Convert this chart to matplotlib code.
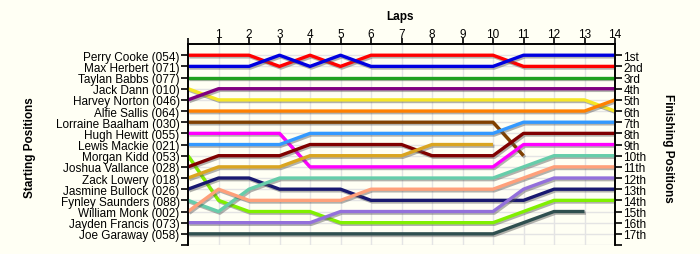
import matplotlib
matplotlib.use("Agg")
import matplotlib.pyplot as plt
import matplotlib.patheffects as pe
import numpy as np

plt.rcParams['font.family'] = ['Liberation Sans', 'DejaVu Sans']

laps = list(range(0, 15))

drivers = ['Perry Cooke (054)', 'Max Herbert (071)', 'Taylan Babbs (077)', 'Jack Dann (010)',
           'Harvey Norton (046)', 'Alfie Sallis (064)', 'Lorraine Baalham (030)', 'Hugh Hewitt (055)',
           'Lewis Mackie (021)', 'Morgan Kidd (053)', 'Joshua Vallance (028)', 'Zack Lowery (018)',
           'Jasmine Bullock (026)', 'Fynley Saunders (088)', 'William Monk (002)',
           'Jayden Francis (073)', 'Joe Garaway (058)']

finish_labels = ['1st', '2nd', '3rd', '4th', '5th', '6th', '7th', '8th', '9th', '10th',
                 '11th', '12th', '13th', '14th', '15th', '16th', '17th']

# position at each lap (lap 0 = grid), None = retired
perry = [1, 1, 1, 2, 1, 2, 1, 1, 1, 1, 1, 2, 2, 2, 2]
max_h = [2, 2, 2, 1, 2, 1, 2, 2, 2, 2, 2, 1, 1, 1, 1]
taylan = [3] * 15
jack = [4, 5, 5, 5, 5, 5, 5, 5, 5, 5, 5, 5, 5, 5, 6]
harvey = [5, 4, 4, 4, 4, 4, 4, 4, 4, 4, 4, 4, 4, 4, 4]
alfie = [6, 6, 6, 6, 6, 6, 6, 6, 6, 6, 6, 6, 6, 6, 5]
lorraine = [7, 7, 7, 7, 7, 7, 7, 7, 7, 7, 7, 10, None, None, None]
hugh = [8, 8, 8, 8, 11, 11, 11, 11, 11, 11, 11, 9, 9, 9, 9]
lewis = [9, 9, 9, 9, 8, 8, 8, 8, 8, 8, 8, 7, 7, 7, 7]
morgan = [10, 14, 15, 15, 15, 16, 16, 16, 16, 16, 16, 15, 14, 14, 14]
joshua = [11, 10, 10, 10, 9, 9, 9, 9, 10, 10, 10, 8, 8, 8, 8]
zack = [12, 11, 11, 11, 10, 10, 10, 10, 9, 9, 9, None, None, None, None]
jasmine = [13, 12, 12, 13, 13, 13, 14, 14, 14, 14, 14, 14, 13, 13, 13]
fynley = [14, 15, 13, 12, 12, 12, 12, 12, 12, 12, 12, 11, 10, 10, 10]
william = [15, 13, 14, 14, 14, 14, 13, 13, 13, 13, 13, 12, 11, 11, 11]
jayden = [16, 16, 16, 16, 16, 15, 15, 15, 15, 15, 15, 13, 12, 12, 12]
joe = [17, 17, 17, 17, 17, 17, 17, 17, 17, 17, 17, 16, 15, 15, None]

positions = [perry, max_h, taylan, jack, harvey, alfie, lorraine, hugh, lewis, morgan,
             joshua, zack, jasmine, fynley, william, jayden, joe]

colors = ['#ff0000', '#0000e0', '#1fa01f', '#f5e626', '#800080', '#ff8000', '#804000',
          '#ff00ff', '#3399ff', '#80f000', '#800000', '#daa520', '#191970', '#66cdaa',
          '#ffa07a', '#9370db', '#2f4f4f']

bg = '#fffff4'
fig = plt.figure(figsize=(7, 2.55), dpi=100, facecolor=bg)
ax = fig.add_axes([0.2686, 0.0353, 0.61, 0.788])
ax.set_facecolor(bg)

for pos, col in zip(positions, colors):
    y = np.array([np.nan if p is None else p for p in pos], dtype=float)
    ax.plot(laps, y, color=col, lw=2.4, solid_capstyle='butt', zorder=3,
            path_effects=[pe.SimpleLineShadow(offset=(1, -1.2), shadow_color='#555555', alpha=0.45),
                          pe.Normal()])

ax.set_xlim(0, 14)
ax.set_ylim(18, 0)

ax.set_xticks(range(1, 15))
ax.set_xticks(range(0, 15), minor=True)
ax.xaxis.tick_top()
ax.tick_params(axis='x', which='both', direction='out', length=4, width=1.2, pad=-1, labelsize=8.5)

ax.set_yticks(range(1, 18))
ax.set_yticklabels(drivers, fontsize=8.5)
ax.set_yticks(range(1, 19), minor=True)
ax.tick_params(axis='y', which='both', direction='out', length=5, width=1.2, pad=1)

ax2 = ax.twinx()
ax2.set_ylim(18, 0)
ax2.set_yticks(range(1, 18))
ax2.set_yticklabels(finish_labels, fontsize=8.5)
ax2.set_yticks(range(1, 19), minor=True)
ax2.tick_params(axis='y', which='both', direction='out', length=5, width=1.2, pad=1)

for a in (ax, ax2):
    a.spines['bottom'].set_visible(False)
    for s in ['top', 'left', 'right']:
        a.spines[s].set_linewidth(1.2)

for x in range(1, 14):
    ax.axvline(x, color='#e4e4e4', lw=1, zorder=1)
for y in range(1, 19):
    ax.axhline(y, color='#e4e4e4', lw=1, zorder=1)

fig.text(0.571, 0.935, 'Laps', ha='center', va='center', fontsize=8.5, fontweight='bold')
fig.text(0.043, 0.42, 'Starting Positions', ha='center', va='center', rotation=90,
         fontsize=8.5, fontweight='bold')
fig.text(0.955, 0.42, 'Finishing Positions', ha='center', va='center', rotation=-90,
         fontsize=8.5, fontweight='bold')

fig.savefig('out.png', dpi=100, facecolor=bg)
